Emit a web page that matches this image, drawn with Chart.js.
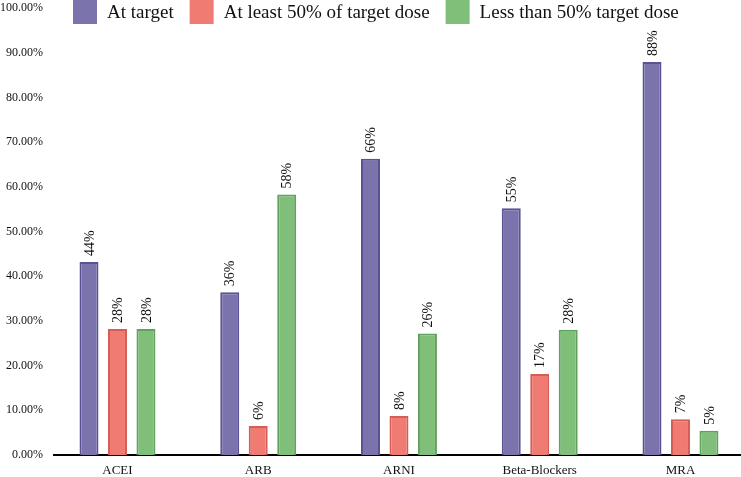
<!DOCTYPE html>
<html>
<head>
<meta charset="utf-8">
<script src="https://cdn.jsdelivr.net/npm/chart.js@4.4.1/dist/chart.umd.min.js"></script>
<style>
  html, body { margin: 0; padding: 0; background: #fff; overflow: hidden; }
  #wrap { width: 741px; height: 477px; }
</style>
</head>
<body>
<div id="wrap"><canvas id="dose_chart"></canvas></div>
<script>
const categories = ['ACEI', 'ARB', 'ARNI', 'Beta-Blockers', 'MRA'];
const seriesNames = ['At target', 'At least 50% of target dose', 'Less than 50% target dose'];

// bar heights (percent)
const atTarget = [43.2, 36.4, 66.3, 55.2, 87.9];
const atLeastHalf = [28.2, 6.5, 8.7, 18.1, 8.0];
const lessThanHalf = [28.2, 58.3, 27.2, 28.0, 5.4];

// printed labels above bars
const atTargetLabels = ['44%', '36%', '66%', '55%', '88%'];
const atLeastHalfLabels = ['28%', '6%', '8%', '17%', '7%'];
const lessThanHalfLabels = ['28%', '58%', '26%', '28%', '5%'];

const yTicks = [0, 10, 20, 30, 40, 50, 60, 70, 80, 90, 100];

const serif = "'Liberation Serif', 'DejaVu Serif', serif";

function points(values) {
    return values.map((v, i) => ({ x: i, y: v }));
}

const barLabels = {
    id: 'barLabels',
    afterDatasetsDraw(chart) {
        const ctx = chart.ctx;
        chart.data.datasets.forEach((ds, di) => {
            const meta = chart.getDatasetMeta(di);
            meta.data.forEach((bar, i) => {
                ctx.save();
                ctx.translate(bar.x + 1, bar.y - 6);
                ctx.rotate(-Math.PI / 2);
                ctx.font = '14px ' + serif;
                ctx.fillStyle = '#111';
                ctx.textAlign = 'left';
                ctx.textBaseline = 'middle';
                ctx.fillText(ds.pctLabels[i], 0, 0);
                ctx.restore();
            });
        });
    }
};

const topLegend = {
    id: 'topLegend',
    afterDraw(chart) {
        const ctx = chart.ctx;
        let x = 73;
        ctx.save();
        ctx.font = '19px ' + serif;
        ctx.textBaseline = 'middle';
        ctx.textAlign = 'left';
        chart.data.datasets.forEach(ds => {
            ctx.fillStyle = ds.backgroundColor;
            ctx.fillRect(x, 0, 24, 24);
            x += 24 + 10;
            ctx.fillStyle = '#111';
            ctx.fillText(ds.label, x, 13);
            x += ctx.measureText(ds.label).width + 16;
        });
        ctx.restore();
    }
};

const data = {
    datasets: [{
        label: seriesNames[0],
        data: points(atTarget),
        pctLabels: atTargetLabels,
        backgroundColor: 'rgb(122, 115, 172)',
        borderColor: 'rgb(90, 82, 148)',
        borderWidth: 2
    }, {
        label: seriesNames[1],
        data: points(atLeastHalf),
        pctLabels: atLeastHalfLabels,
        backgroundColor: 'rgb(240, 123, 115)',
        borderColor: 'rgb(214, 92, 86)',
        borderWidth: 2
    }, {
        label: seriesNames[2],
        data: points(lessThanHalf),
        pctLabels: lessThanHalfLabels,
        backgroundColor: 'rgb(127, 191, 122)',
        borderColor: 'rgb(96, 162, 93)',
        borderWidth: 2
    }]
};

const config = {
    type: 'bar',
    data: data,
    options: {
        responsive: true,
        maintainAspectRatio: false,
        animation: false,
        categoryPercentage: 0.607,
        barPercentage: 0.667,
        layout: { padding: { top: 8, left: 0, right: 0, bottom: 0 } },
        plugins: {
            legend: { display: false },
            tooltip: { enabled: false }
        },
        scales: {
            x: {
                type: 'linear',
                offset: false,
                bounds: 'data',
                min: -0.451,
                max: 4.43,
                grid: { display: false, drawTicks: false, offset: false },
                border: { display: true, color: '#000', width: 2 },
                afterBuildTicks: axis => {
                    axis.ticks = categories.map((c, i) => ({ value: i }));
                },
                afterFit: axis => {
                    axis.height = 22;
                    axis.paddingLeft = 0;
                    axis.paddingRight = 0;
                },
                ticks: {
                    padding: 8,
                    color: '#111',
                    font: { family: serif, size: 13 },
                    callback: v => categories[v]
                }
            },
            y: {
                min: 0,
                max: 100,
                grid: { display: false, drawTicks: false },
                border: { display: false },
                afterBuildTicks: axis => {
                    axis.ticks = yTicks.map(v => ({ value: v }));
                },
                afterFit: axis => {
                    axis.width = 54;
                    axis.paddingTop = 0;
                    axis.paddingBottom = 0;
                },
                ticks: {
                    padding: 11,
                    color: '#111',
                    font: { family: serif, size: 12 },
                    callback: v => v.toFixed(2) + '%'
                }
            }
        }
    },
    plugins: [barLabels, topLegend]
};

const chart = new Chart(document.getElementById('dose_chart'), config);
</script>
</body>
</html>
